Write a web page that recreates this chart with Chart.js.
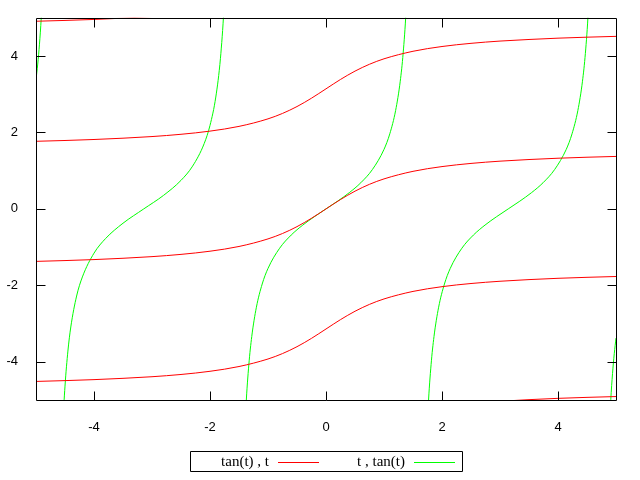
<!DOCTYPE html>
<html>
<head>
<meta charset="utf-8">
<script src="https://cdn.jsdelivr.net/npm/chart.js@4/dist/chart.umd.min.js"></script>
<style>
  html, body { margin: 0; padding: 0; background: #fff; }
  #wrap { width: 640px; height: 480px; }
</style>
</head>
<body>
<div id="wrap"><canvas id="plot" width="640" height="480"></canvas></div>
<script>
// Tick labels
const xTicks = [-4, -2, 0, 2, 4];
const yTicks = [-4, -2, 0, 2, 4];

// Red curves: x = tan(t), y = t
const redX = [-5, -4.5, -4, -3.5, -3, -2.5, -2, -1.5, -1, -0.75, -0.5, -0.25, 0,
  0.25, 0.5, 0.75, 1, 1.5, 2, 2.5, 3, 3.5, 4, 4.5, 5];
const redMid = [-1.373, -1.352, -1.326, -1.292, -1.249, -1.190, -1.107, -0.983, -0.785, -0.644, -0.464, -0.245, 0,
  0.245, 0.464, 0.644, 0.785, 0.983, 1.107, 1.190, 1.249, 1.292, 1.326, 1.352, 1.373];
const redUp = [1.769, 1.790, 1.816, 1.850, 1.893, 1.952, 2.035, 2.159, 2.356, 2.498, 2.678, 2.897, 3.142,
  3.387, 3.605, 3.785, 3.927, 4.124, 4.249, 4.332, 4.391, 4.433, 4.467, 4.493, 4.514];
const redLow = [-4.514, -4.493, -4.467, -4.433, -4.391, -4.332, -4.249, -4.124, -3.927, -3.785, -3.605, -3.387, -3.142,
  -2.897, -2.678, -2.498, -2.356, -2.159, -2.035, -1.952, -1.893, -1.850, -1.816, -1.790, -1.769];
const redTopX = [-5, -4.5, -4, -3.5, -3];
const redTopY = [4.910, 4.931, 4.957, 4.991, 5.034];
const redBotX = [3, 3.5, 4, 4.5, 5];
const redBotY = [-5.034, -4.991, -4.957, -4.931, -4.910];

// Green curves: x = t, y = tan(t)
const grnAX = [-5, -4.97, -4.94, -4.91, -4.88];
const grnAY = [3.381, 3.79, 4.31, 4.99, 5.91];
const grnBX = [-4.58, -4.54, -4.5, -4.45, -4.4, -4.3, -4.2, -4.0, -3.8, -3.5, -3.142,
  -2.8, -2.5, -2.3, -2.1, -2.0, -1.9, -1.82, -1.76, -1.72];
const grnBY = [-7.48, -5.74, -4.637, -3.72, -3.09, -2.28, -1.78, -1.158, -0.775, -0.375, 0,
  0.355, 0.747, 1.119, 1.71, 2.185, 2.927, 3.94, 5.24, 6.67];
const grnCX = [-1.43, -1.38, -1.33, -1.28, -1.2, -1.1, -1, -0.8, -0.6, -0.4, -0.2, 0,
  0.2, 0.4, 0.6, 0.8, 1, 1.1, 1.2, 1.28, 1.33, 1.38, 1.43];
const grnCY = [-7.06, -5.18, -4.07, -3.34, -2.572, -1.965, -1.557, -1.030, -0.684, -0.423, -0.203, 0,
  0.203, 0.423, 0.684, 1.030, 1.557, 1.965, 2.572, 3.34, 4.07, 5.18, 7.06];
const grnDX = [1.712, 1.762, 1.812, 1.862, 1.942, 2.042, 2.142, 2.342, 2.542, 2.742, 2.942, 3.142,
  3.342, 3.542, 3.742, 3.942, 4.142, 4.242, 4.342, 4.422, 4.472, 4.522, 4.572];
const grnDY = [-7.06, -5.18, -4.07, -3.34, -2.572, -1.965, -1.557, -1.030, -0.684, -0.423, -0.203, 0,
  0.203, 0.423, 0.684, 1.030, 1.557, 1.965, 2.572, 3.34, 4.07, 5.18, 7.06];
const grnEX = [4.88, 4.91, 4.94, 4.97, 5];
const grnEY = [-5.91, -4.99, -4.31, -3.79, -3.381];

const legendLabels = ["tan(t) , t", "t , tan(t)"];
const RED = "rgb(255, 0, 0)";
const GREEN = "rgb(0, 255, 0)";
const TICK_FONT = { family: "'Liberation Sans', Arial, sans-serif", size: 13 };
const KEY_FONT = "15px 'Liberation Serif', 'Times New Roman', serif";

function pts(xs, ys) {
  return xs.map((x, i) => ({ x: x, y: ys[i] }));
}

function series(xs, ys, color) {
  return {
    data: pts(xs, ys),
    borderColor: color,
    backgroundColor: color,
    borderWidth: 1,
    pointRadius: 0,
    showLine: true,
    fill: false,
    cubicInterpolationMode: "monotone",
    clip: 0,
  };
}

// box and inward mirror ticks, gnuplot style
const frame = {
  id: "frame",
  afterDatasetsDraw(chart) {
    const ctx = chart.ctx;
    const a = chart.chartArea;
    const xs = chart.scales.x;
    const ys = chart.scales.y;
    const L = Math.round(a.left) + 0.5, R = Math.round(a.right) + 0.5;
    const T = Math.round(a.top) + 0.5, B = Math.round(a.bottom) + 0.5;
    ctx.save();
    ctx.strokeStyle = "#000";
    ctx.lineWidth = 1;
    ctx.beginPath();
    ctx.rect(L, T, R - L, B - T);
    xTicks.forEach((v) => {
      const px = Math.round(xs.getPixelForValue(v)) + 0.5;
      ctx.moveTo(px, B); ctx.lineTo(px, B - 9);
      ctx.moveTo(px, T); ctx.lineTo(px, T + 9);
    });
    yTicks.forEach((v) => {
      const py = Math.round(ys.getPixelForValue(v)) + 0.5;
      ctx.moveTo(L, py); ctx.lineTo(L + 9, py);
      ctx.moveTo(R, py); ctx.lineTo(R - 9, py);
    });
    ctx.stroke();
    ctx.restore();
  },
};

// legend box under the plot
const keyBox = {
  id: "keyBox",
  afterDraw(chart) {
    const ctx = chart.ctx;
    ctx.save();
    ctx.lineWidth = 1;
    ctx.strokeStyle = "#000";
    ctx.beginPath();
    ctx.rect(190.5, 451.5, 272, 20);
    ctx.stroke();
    ctx.font = KEY_FONT;
    ctx.fillStyle = "#000";
    ctx.textAlign = "right";
    ctx.textBaseline = "middle";
    ctx.fillText(legendLabels[0], 269, 462);
    ctx.fillText(legendLabels[1], 405, 462);
    ctx.strokeStyle = RED;
    ctx.beginPath();
    ctx.moveTo(278, 462.5);
    ctx.lineTo(319, 462.5);
    ctx.stroke();
    ctx.strokeStyle = GREEN;
    ctx.beginPath();
    ctx.moveTo(414, 462.5);
    ctx.lineTo(455, 462.5);
    ctx.stroke();
    ctx.restore();
  },
};

const chart = new Chart(document.getElementById("plot").getContext("2d"), {
  type: "scatter",
  data: {
    datasets: [
      series(redX, redMid, RED),
      series(redX, redUp, RED),
      series(redX, redLow, RED),
      series(redTopX, redTopY, RED),
      series(redBotX, redBotY, RED),
      series(grnAX, grnAY, GREEN),
      series(grnBX, grnBY, GREEN),
      series(grnCX, grnCY, GREEN),
      series(grnDX, grnDY, GREEN),
      series(grnEX, grnEY, GREEN),
    ],
  },
  options: {
    responsive: false,
    animation: false,
    devicePixelRatio: 1,
    layout: { padding: { top: 16, right: 24, left: 0, bottom: 0 } },
    plugins: { legend: { display: false }, tooltip: { enabled: false } },
    scales: {
      x: {
        type: "linear",
        min: -5,
        max: 5,
        grid: { display: false },
        border: { display: false },
        afterBuildTicks: (s) => { s.ticks = xTicks.map((v) => ({ value: v })); },
        afterFit: (s) => { s.height = 80; },
        ticks: { color: "#000", font: TICK_FONT, padding: 12, maxRotation: 0 },
      },
      y: {
        type: "linear",
        min: -5,
        max: 5,
        grid: { display: false },
        border: { display: false },
        afterBuildTicks: (s) => { s.ticks = yTicks.map((v) => ({ value: v })); },
        afterFit: (s) => { s.width = 36; },
        ticks: { color: "#000", font: TICK_FONT, padding: 10 },
      },
    },
  },
  plugins: [frame, keyBox],
});
</script>
</body>
</html>
